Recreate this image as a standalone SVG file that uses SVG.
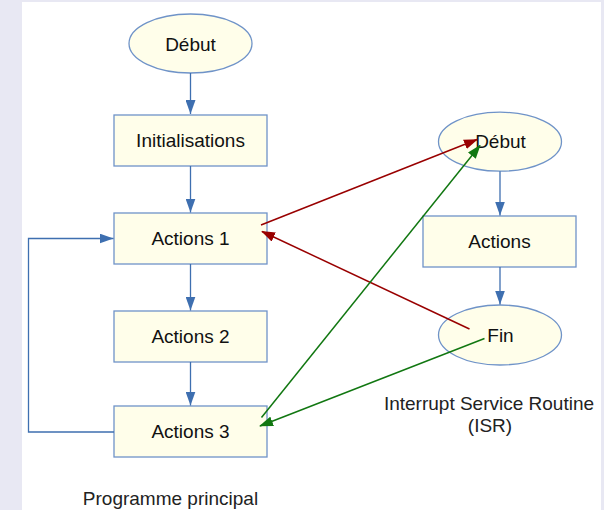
<svg xmlns="http://www.w3.org/2000/svg" width="604" height="510" viewBox="0 0 604 510">
<defs>
<style>
.node{fill:#fffeea;stroke:#6f93c8;stroke-width:1.3}
.lbl{font-family:"Liberation Sans",Arial,sans-serif;font-size:19px;fill:#111;text-anchor:middle}
.cap{font-family:"Liberation Sans",Arial,sans-serif;font-size:19px;fill:#222;text-anchor:middle}
.blue{fill:none;stroke:#3e6fb0;stroke-width:1.3}
.red{fill:none;stroke:#990000;stroke-width:1.5}
.green{fill:none;stroke:#117711;stroke-width:1.5}
</style>
<marker id="ab" viewBox="0 0 14 10" refX="14" refY="5" markerWidth="14" markerHeight="10" markerUnits="userSpaceOnUse" orient="auto"><path d="M0,0L14,5L0,10Z" fill="#3e6fb0"/></marker>
<marker id="ar" viewBox="0 0 14 10" refX="13" refY="5" markerWidth="14" markerHeight="10" markerUnits="userSpaceOnUse" orient="auto"><path d="M0,0L14,5L0,10Z" fill="#990000"/></marker>
<marker id="ag" viewBox="0 0 14 10" refX="13" refY="5" markerWidth="14" markerHeight="10" markerUnits="userSpaceOnUse" orient="auto"><path d="M0,0L14,5L0,10Z" fill="#117711"/></marker>
</defs>
<rect x="0" y="0" width="604" height="510" fill="#e8e8f3"/>
<rect x="22" y="2" width="579" height="508" fill="#ffffff"/>

<g id="debut1"><ellipse class="node" cx="190.5" cy="43.5" rx="61.5" ry="29.5"/><text class="lbl" x="190.5" y="50.5">Début</text></g>
<g id="init"><rect class="node" x="114" y="115" width="153" height="51"/><text class="lbl" x="190.5" y="147">Initialisations</text></g>
<g id="actions1"><rect class="node" x="114" y="213" width="153" height="51"/><text class="lbl" x="190.5" y="245">Actions 1</text></g>
<g id="actions2"><rect class="node" x="114" y="311" width="153" height="51"/><text class="lbl" x="190.5" y="343">Actions 2</text></g>
<g id="actions3"><rect class="node" x="114" y="406" width="153" height="51"/><text class="lbl" x="190.5" y="438">Actions 3</text></g>
<g id="prog-label"><text class="cap" x="170.5" y="505">Programme principal</text></g>

<g id="debut2"><ellipse class="node" cx="500" cy="141.7" rx="61.5" ry="29.5"/><text class="lbl" x="500.5" y="148">Début</text></g>
<g id="actionsISR"><rect class="node" x="423" y="216" width="153" height="51"/><text class="lbl" x="499.5" y="248">Actions</text></g>
<g id="fin"><ellipse class="node" cx="500" cy="335" rx="61.5" ry="30"/><text class="lbl" x="500.5" y="342">Fin</text></g>
<g id="isr-label"><text class="cap" x="489" y="409.5">Interrupt Service Routine</text><text class="cap" x="490" y="431.5">(ISR)</text></g>

<g id="connectors">
<line class="blue" x1="190.5" y1="73" x2="190.5" y2="114" marker-end="url(#ab)"/>
<line class="blue" x1="190.5" y1="166" x2="190.5" y2="212.5" marker-end="url(#ab)"/>
<line class="blue" x1="190.5" y1="264" x2="190.5" y2="310.5" marker-end="url(#ab)"/>
<line class="blue" x1="190.5" y1="362" x2="190.5" y2="405.5" marker-end="url(#ab)"/>
<polyline class="blue" points="114,432 28.5,432 28.5,238.5 113.5,238.5" marker-end="url(#ab)"/>
<line class="blue" x1="500" y1="171.2" x2="500" y2="215.5" marker-end="url(#ab)"/>
<line class="blue" x1="500" y1="267" x2="500" y2="304.5" marker-end="url(#ab)"/>
<line class="red" x1="261" y1="225" x2="477" y2="139.5" marker-end="url(#ar)"/>
<line class="red" x1="469.5" y1="329" x2="262" y2="231.5" marker-end="url(#ar)"/>
<line class="green" x1="261.5" y1="417.5" x2="480" y2="145.5" marker-end="url(#ag)"/>
<line class="green" x1="484.5" y1="338.5" x2="260" y2="426" marker-end="url(#ag)"/>
</g>
</svg>
